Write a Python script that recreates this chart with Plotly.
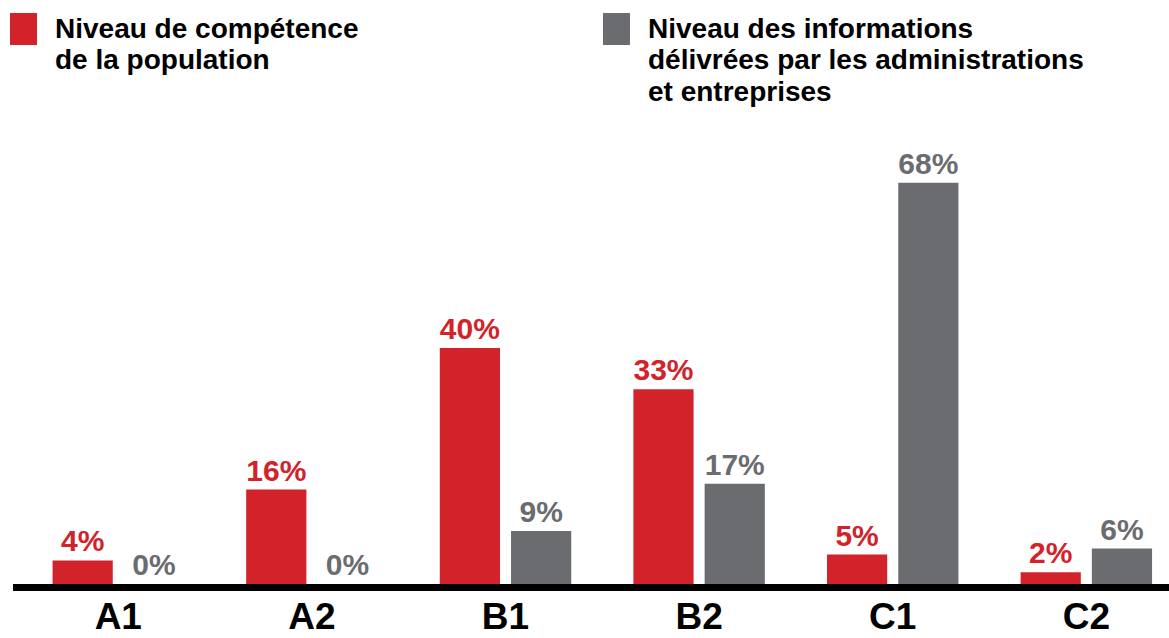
import plotly.graph_objects as go

categories = ["A1", "A2", "B1", "B2", "C1", "C2"]
population = [4, 16, 40, 33, 5, 2]
informations = [0, 0, 9, 17, 68, 6]
labels_pop = ["4%", "16%", "40%", "33%", "5%", "2%"]
labels_info = ["0%", "0%", "9%", "17%", "68%", "6%"]
legend_pop = ["Niveau de compétence", "de la population"]
legend_info = ["Niveau des informations", "délivrées par les administrations", "et entreprises"]

RED = "#D2232A"
GREY = "#6B6C70"
FONT = "Liberation Sans, Arial, sans-serif"
W, H = 1169, 638
T, B = 112, 54
PH = H - T - B  # plot height in px

fig = go.Figure()
fig.add_trace(go.Bar(
    x=categories, y=population, marker=dict(color=RED, line=dict(width=0)),
    text=labels_pop, textposition="outside", cliponaxis=False, constraintext="none",
    textfont=dict(family=FONT, size=30, color=RED, weight="bold"), showlegend=False,
))
fig.add_trace(go.Bar(
    x=categories, y=informations, marker=dict(color=GREY, line=dict(width=0)),
    text=labels_info, textposition="outside", cliponaxis=False, constraintext="none",
    textfont=dict(family=FONT, size=30, color=GREY, weight="bold"), showlegend=False,
))

# axis baseline (thick black line)
fig.add_shape(type="rect", xref="paper", x0=13 / W, x1=1, yref="paper",
              ysizemode="pixel", yanchor=0, y0=0, y1=-7,
              fillcolor="black", line=dict(width=0), layer="above")

def py(px):
    """page pixel (from top) -> paper y"""
    return (H - B - px) / PH

# legend (custom)
for xpx, col, lines in [(10, RED, legend_pop), (603, GREY, legend_info)]:
    fig.add_shape(type="rect", xref="paper", yref="paper",
                  x0=xpx / W, x1=(xpx + 27) / W,
                  y0=py(45), y1=py(13),
                  fillcolor=col, line=dict(width=0))
    for i, line in enumerate(lines):
        fig.add_annotation(xref="paper", yref="paper", x=(xpx + 44) / W, y=py(38 + 31.5 * i),
                           xanchor="left", yanchor="bottom", align="left", showarrow=False,
                           text=line, borderpad=0, yshift=-7,
                           font=dict(family=FONT, size=28, color="black", weight="bold"))

fig.update_layout(
    width=W, height=H,
    margin=dict(l=0, r=0, t=T, b=B),
    paper_bgcolor="white", plot_bgcolor="white",
    barmode="group", bargap=0.264, bargroupgap=0.155,
    xaxis=dict(range=[-0.611, 5.427], showgrid=False, showline=False, zeroline=False,
               ticks="", tickfont=dict(family=FONT, size=37, color="black", weight="bold"),
               ticklabelstandoff=7, automargin=False),
    yaxis=dict(range=[0, 80], visible=False, showgrid=False, zeroline=False),
    font=dict(family=FONT),
)

fig.write_html("out.html", config={"displayModeBar": False},
               post_script="document.body.style.margin='0';")
